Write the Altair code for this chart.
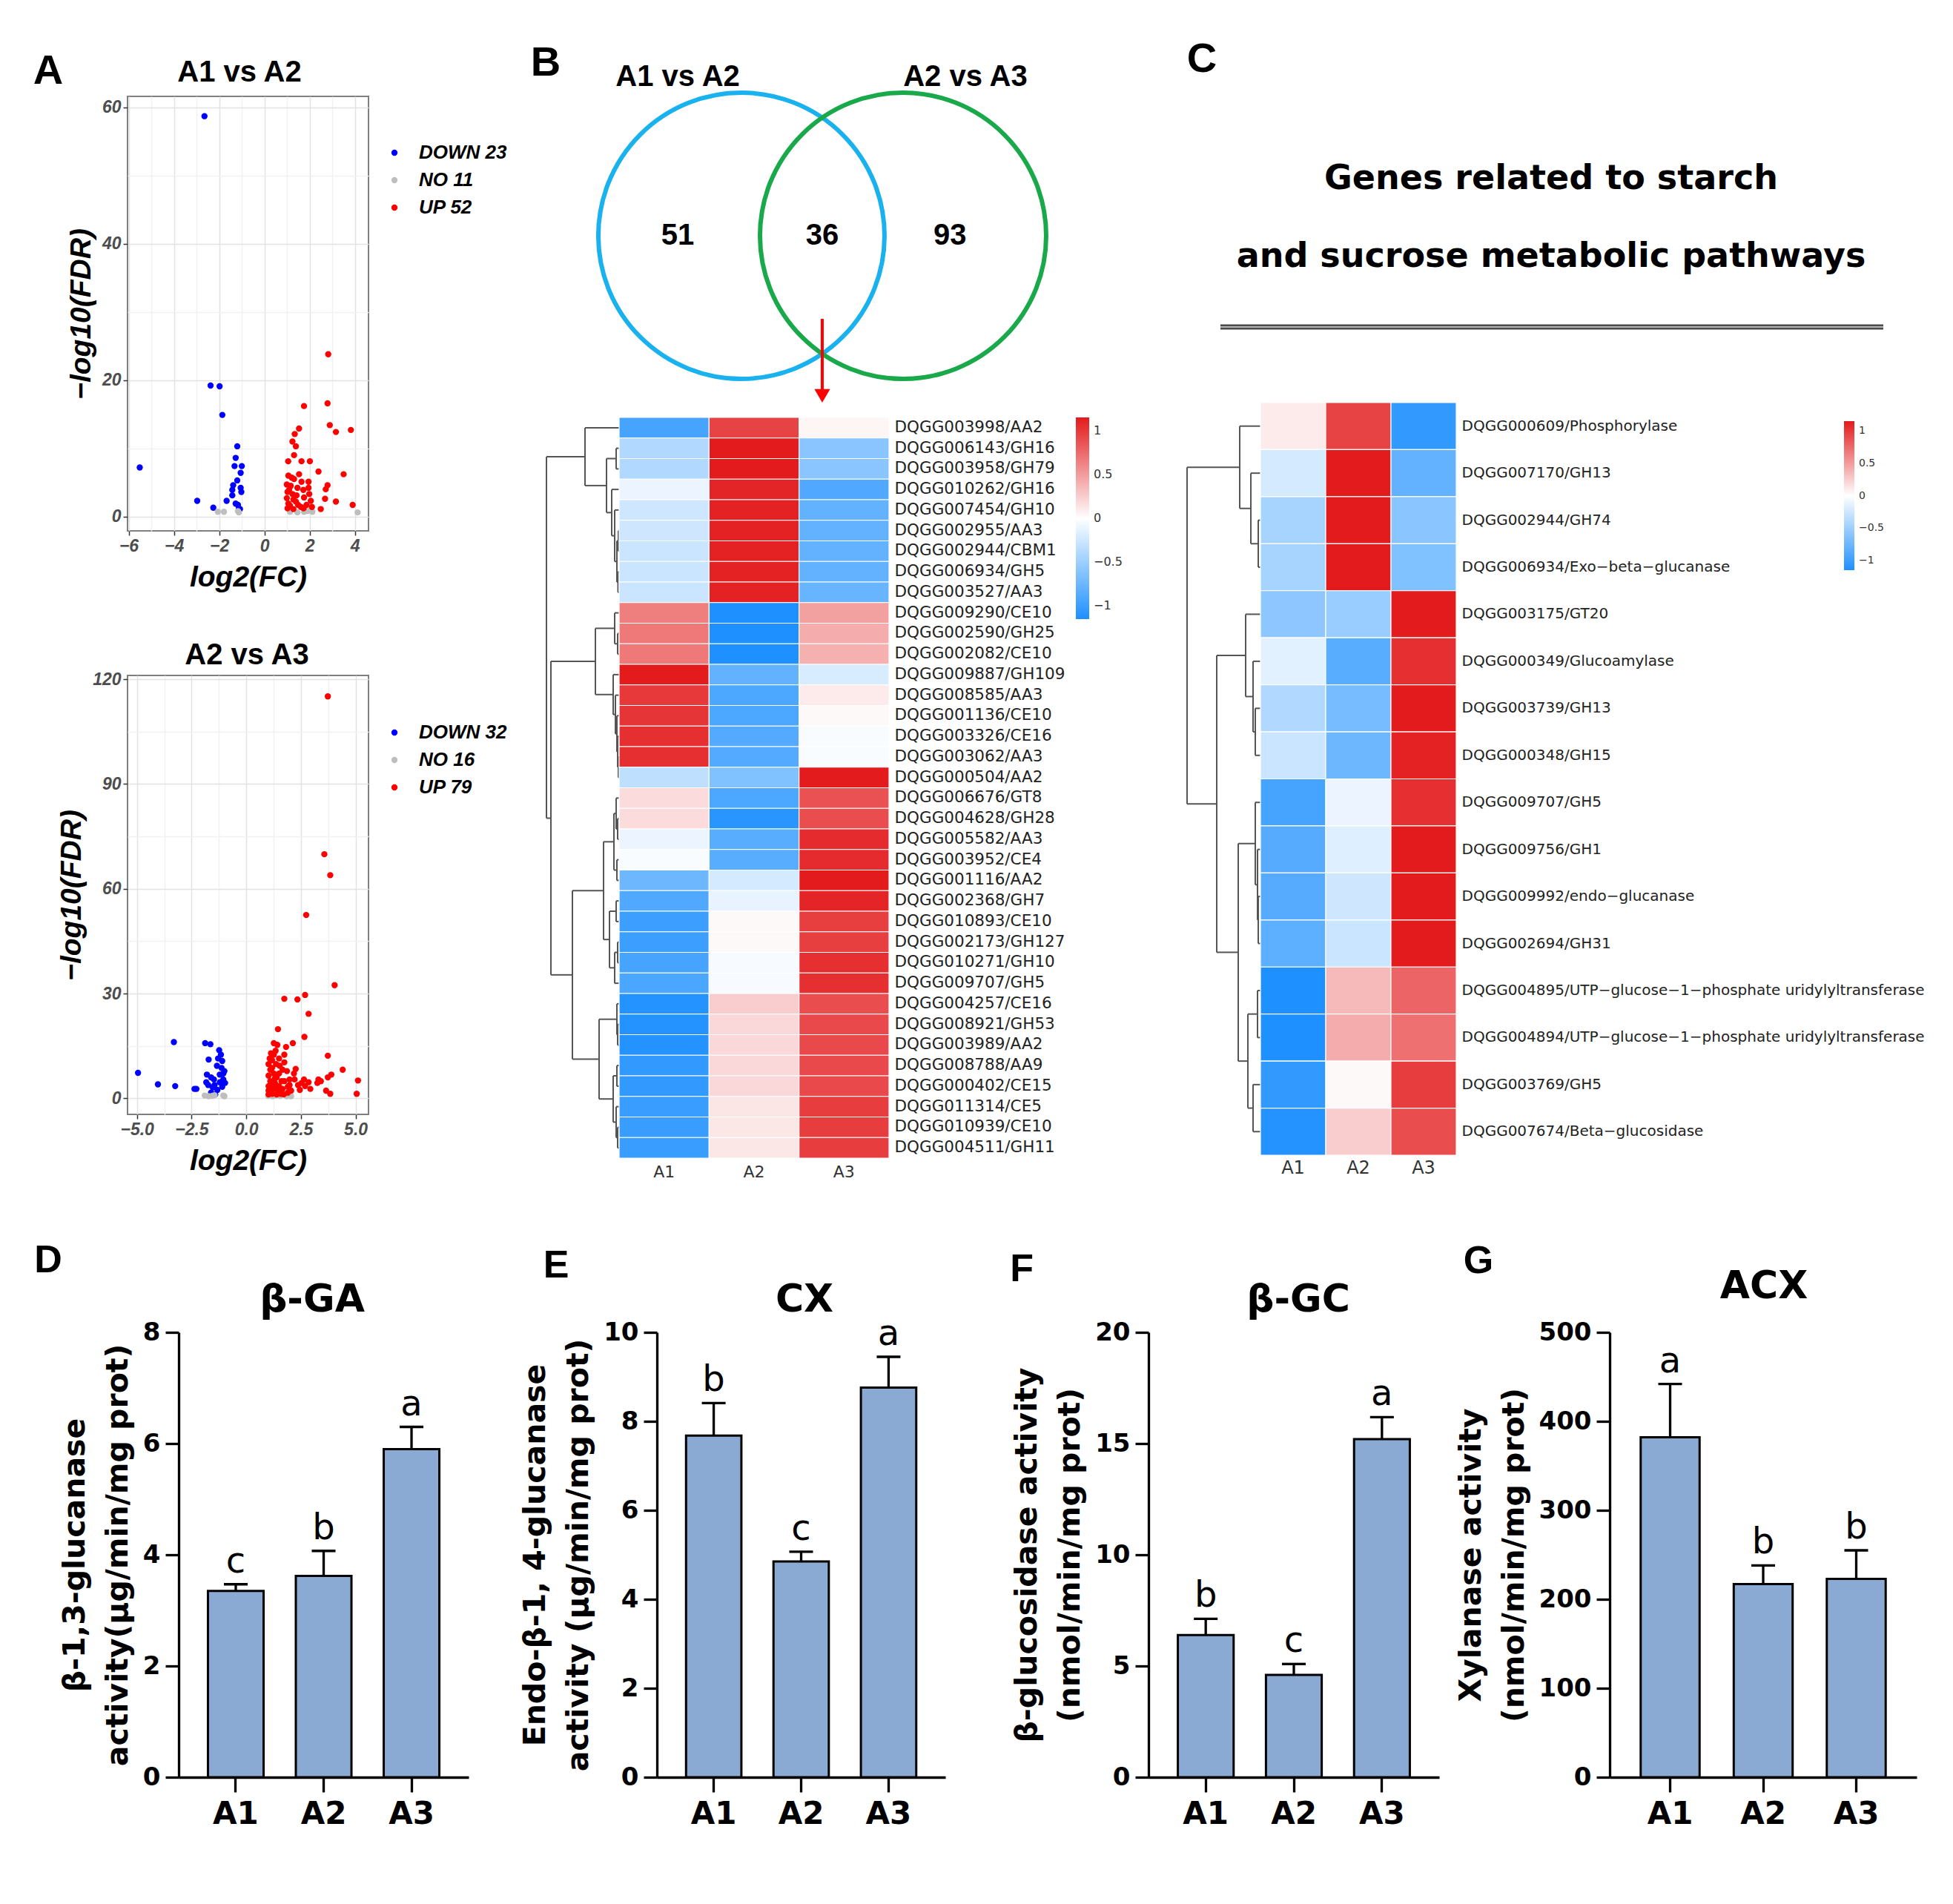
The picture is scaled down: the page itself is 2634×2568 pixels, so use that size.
import altair as alt
import pandas as pd

DJ = "DejaVu Sans"
LIB = "Liberation Sans"

# ---------------- Panel A : volcano plots ----------------
A12_DOWN_FC = [-2.65, -5.51, -2.38, -1.98, -1.86, -2.97, -2.26, -1.20, -1.27, -1.32, -1.00, -1.05,
               -1.20, -1.38, -1.05, -1.42, -1.02, -1.67, -1.42, -1.27, -1.17, -1.08, -1.13]
A12_DOWN_FDR = [58.7, 7.2, 19.2, 19.1, 14.9, 2.3, 1.3, 10.3, 8.6, 7.4, 7.4, 6.4,
                5.3, 4.6, 4.2, 3.9, 3.6, 2.3, 3.1, 1.9, 1.7, 1.1, 1.2]
A12_NO_FC = [-2.06, -1.79, -1.17, -1.13, 1.13, 1.46, 1.75, 1.90, 2.05, 2.12, 4.12]
A12_NO_FDR = [0.7, 0.7, 0.8, 0.6, 0.7, 0.6, 0.7, 0.8, 0.9, 0.7, 0.6]
A12_UP_FC = [2.82, 1.75, 2.79, 2.89, 3.16, 3.82, 1.53, 1.34, 1.24, 1.39, 1.31, 1.05, 1.64, 2.01, 2.39,
             3.50, 1.06, 1.21, 1.31, 1.64, 1.95, 0.99, 1.16, 1.46, 1.72, 1.95, 2.79, 2.71, 1.02, 1.24,
             1.42, 1.75, 0.99, 1.28, 2.68, 3.16, 2.05, 1.06, 1.49, 1.86, 1.02, 1.28, 1.61, 2.49, 3.90,
             2.10, 1.13, 1.39, 1.98, 1.09, 1.53, 1.73]
A12_UP_FDR = [23.8, 16.2, 16.6, 13.4, 12.4, 12.7, 12.9, 12.1, 11.0, 10.3, 9.0, 8.1, 8.1, 8.1, 6.6,
              6.2, 6.0, 5.7, 5.5, 5.1, 5.1, 4.7, 4.5, 4.2, 3.9, 4.2, 4.6, 4.0, 3.6, 3.3,
              3.1, 2.8, 2.7, 2.5, 2.6, 2.2, 2.3, 1.9, 1.7, 1.7, 1.2, 1.1, 1.4, 1.1, 1.7,
              1.4, 1.6, 2.2, 3.3, 3.9, 6.2, 1.2]

A23_DOWN_FC = [-4.95, -4.04, -3.31, -3.25, -2.37, -2.28, -1.88, -1.64, -1.72, -1.24, -1.16, -1.10,
               -1.34, -1.00, -1.21, -1.05, -1.48, -1.83, -1.74, -1.53, -1.32, -1.10, -1.61, -1.42,
               -1.80, -1.13, -1.29, -1.05, -1.45, -1.21, -1.61, -0.97]
A23_DOWN_FDR = [7.3, 4.0, 16.1, 3.5, 2.7, 2.7, 15.8, 15.5, 11.1, 13.8, 12.5, 10.7,
                9.3, 7.8, 6.8, 5.4, 5.4, 4.6, 3.8, 3.1, 2.4, 3.3, 1.6, 1.1,
                6.8, 8.7, 11.4, 7.1, 3.8, 4.6, 6.0, 4.4]
A23_NO_FC = [-1.90, -1.72, -1.55, -1.45, -1.05, -1.00, 1.00, 1.10, 1.20, 1.35, 1.55, 1.80, 1.85, 1.95, 2.00, 2.05]
A23_NO_FDR = [0.8, 0.6, 0.7, 0.9, 0.8, 0.6, 0.7, 0.9, 0.6, 0.8, 0.7, 0.9, 0.6, 0.8, 0.7, 0.6]
A23_UP_FC = [3.73, 3.57, 3.84, 2.74, 4.04, 2.69, 1.74, 2.34, 2.85, 1.45, 2.66, 2.13, 1.82, 1.26, 3.73,
             4.41, 5.11, 5.05, 3.84, 3.89, 3.73, 3.30, 3.25, 2.85, 2.64, 2.69, 2.45, 2.26, 2.21, 1.98,
             1.86, 1.66, 1.74, 1.74, 1.50, 1.34, 1.26, 1.18, 1.02, 1.10, 1.26, 1.02, 1.39, 1.10, 1.31,
             1.02, 1.50, 1.21, 1.02, 1.42, 1.66, 1.18, 1.39, 1.58, 1.90, 2.05, 1.50, 1.61, 1.18, 1.36,
             1.07, 1.42, 1.74, 1.90, 2.37, 2.53, 2.93, 3.41, 3.65, 1.10, 1.26, 1.45, 1.02, 1.71, 1.98,
             1.53, 2.18, 1.31, 1.13]
A23_UP_FDR = [115.1, 69.9, 63.9, 52.5, 32.4, 29.6, 28.5, 28.3, 24.2, 19.8, 17.6, 15.8, 14.7, 15.8, 12.2,
              8.2, 5.1, 1.3, 1.3, 6.8, 6.0, 5.4, 4.4, 4.6, 5.4, 3.5, 2.4, 8.4, 5.4, 3.8,
              7.8, 8.2, 10.3, 12.5, 11.4, 13.6, 12.5, 10.9, 9.8, 8.2, 7.1, 6.5, 6.0, 4.9, 4.4,
              3.5, 3.5, 2.7, 2.2, 2.2, 2.7, 1.3, 1.1, 1.3, 1.6, 2.2, 7.1, 4.9, 8.7, 9.8,
              11.4, 15.3, 4.9, 3.3, 3.8, 4.4, 2.7, 4.9, 2.2, 3.8, 3.3, 3.1, 1.1, 1.1, 5.4,
              9.3, 7.1, 5.7, 12.9]

# ---------------- Panel B : Venn + heatmap ----------------
VENN_SETS = ["A1 vs A2", "A2 vs A3"]
VENN_COUNTS = [51, 36, 93]  # only A1vsA2, shared, only A2vsA3

SAMPLES = ["A1", "A2", "A3"]
B_GENES = ["DQGG003998/AA2", "DQGG006143/GH16", "DQGG003958/GH79", "DQGG010262/GH16", "DQGG007454/GH10",
           "DQGG002955/AA3", "DQGG002944/CBM1", "DQGG006934/GH5", "DQGG003527/AA3", "DQGG009290/CE10",
           "DQGG002590/GH25", "DQGG002082/CE10", "DQGG009887/GH109", "DQGG008585/AA3", "DQGG001136/CE10",
           "DQGG003326/CE16", "DQGG003062/AA3", "DQGG000504/AA2", "DQGG006676/GT8", "DQGG004628/GH28",
           "DQGG005582/AA3", "DQGG003952/CE4", "DQGG001116/AA2", "DQGG002368/GH7", "DQGG010893/CE10",
           "DQGG002173/GH127", "DQGG010271/GH10", "DQGG009707/GH5", "DQGG004257/CE16", "DQGG008921/GH53",
           "DQGG003989/AA2", "DQGG008788/AA9", "DQGG000402/CE15", "DQGG011314/CE5", "DQGG010939/CE10",
           "DQGG004511/GH11"]
B_A1 = [-0.95, -0.40, -0.40, -0.10, -0.25, -0.25, -0.27, -0.27, -0.27, 0.65, 0.68, 0.68, 1.15, 1.00, 1.02,
        1.05, 1.05, -0.33, 0.18, 0.18, -0.10, -0.03, -0.75, -0.90, -1.00, -1.00, -0.95, -0.93, -1.12, -1.12,
        -1.12, -1.05, -1.05, -1.02, -1.02, -1.02]
B_A2 = [0.95, 1.15, 1.15, 1.10, 1.12, 1.12, 1.12, 1.12, 1.12, -1.15, -1.15, -1.15, -0.80, -0.92, -0.92,
        -0.88, -0.88, -0.65, -0.92, -1.10, -0.85, -0.85, -0.22, -0.12, 0.03, 0.03, -0.04, -0.04, 0.25, 0.20,
        0.20, 0.20, 0.20, 0.13, 0.12, 0.12]
B_A3 = [0.05, -0.60, -0.60, -0.90, -0.80, -0.80, -0.80, -0.80, -0.78, 0.48, 0.42, 0.40, -0.20, 0.10, 0.03,
        -0.03, -0.03, 1.15, 0.88, 0.90, 1.07, 1.07, 1.15, 1.10, 0.97, 0.97, 1.05, 1.05, 0.90, 0.92,
        0.92, 0.92, 0.92, 0.98, 0.98, 0.98]
# dendrogram: (height, left, right); leaves are row indices
B_TREE = (98,
          (46, 0, (17, (4, 1, 2), (10, 3, (6, 4, (3, (1, 5, 6), (1.5, 7, 8)))))),
          (92,
           (32, (6, 9, (2, 10, 11)), (8, 12, (5, 13, (3, 14, (2, 15, (1, 16, 17)))))),
           (63,
            (21, (7, (4, 18, (2, 19, 20)), (3, 21, 22)), (13, (4, 23, 24), (6, (2, 25, 26), 27))),
            (27, (3, 28, (2, 29, 30)), (8, (3, 31, 32), (4, 33, (2, 34, 35)))))))

# ---------------- Panel C : heatmap ----------------
C_TITLE = ["Genes related to starch", "and sucrose metabolic pathways"]
C_GENES = ["DQGG000609/Phosphorylase", "DQGG007170/GH13", "DQGG002944/GH74", "DQGG006934/Exo\u2212beta\u2212glucanase",
           "DQGG003175/GT20", "DQGG000349/Glucoamylase", "DQGG003739/GH13", "DQGG000348/GH15",
           "DQGG009707/GH5", "DQGG009756/GH1", "DQGG009992/endo\u2212glucanase", "DQGG002694/GH31",
           "DQGG004895/UTP\u2212glucose\u22121\u2212phosphate uridylyltransferase",
           "DQGG004894/UTP\u2212glucose\u22121\u2212phosphate uridylyltransferase",
           "DQGG003769/GH5", "DQGG007674/Beta\u2212glucosidase"]
C_A1 = [0.10, -0.22, -0.45, -0.45, -0.58, -0.15, -0.40, -0.27, -0.95, -0.87, -0.87, -0.83, -1.15, -1.15, -1.05, -1.12]
C_A2 = [0.95, 1.15, 1.15, 1.15, -0.52, -0.85, -0.70, -0.75, -0.10, -0.17, -0.25, -0.27, 0.35, 0.42, 0.03, 0.25]
C_A3 = [-1.05, -0.80, -0.60, -0.65, 1.15, 1.05, 1.15, 1.12, 1.05, 1.15, 1.15, 1.15, 0.78, 0.72, 0.98, 0.90]
C_TREE = (99,
          (28, 0, (13, 1, (3, 2, 3))),
          (59,
           (20, 4, (10, 5, (7, 6, 7))),
           (30, (7, 8, (4, 9, (3, 10, 11))), (17, (4, 12, 13), (10, 14, 15)))))

# ---------------- Panels D-G : enzyme activities ----------------
GROUPS = ["A1", "A2", "A3"]
GA_MEAN, GA_SD, GA_LET = [3.35, 3.62, 5.90], [0.12, 0.45, 0.40], ["c", "b", "a"]
CX_MEAN, CX_SD, CX_LET = [7.68, 4.85, 8.76], [0.73, 0.22, 0.69], ["b", "c", "a"]
GC_MEAN, GC_SD, GC_LET = [6.39, 4.60, 15.20], [0.73, 0.49, 0.99], ["b", "c", "a"]
ACX_MEAN, ACX_SD, ACX_LET = [382, 217, 223], [60, 21, 32], ["a", "b", "b"]

BAR_FILL = "#8BAAD3"
HEAT_RANGE = ["#1E90FF", "#FFFFFF", "#E31A1C"]
ZMAX = 1.155
ONE = pd.DataFrame({"a": [0]})


def cond(test, a, b):
    return {"condition": {"test": test, "value": a}, "value": b}


def label_layer(text, xy, size, font=LIB, weight="bold", style="normal"):
    return alt.Chart(pd.DataFrame({"t": [text]})).mark_text(
        font=font, fontSize=size, fontWeight=weight, fontStyle=style, align="center",
        baseline="middle", color="black"
    ).encode(x=alt.value(xy[0]), y=alt.value(xy[1]), text="t:N")


def volcano(groups, title, title_xy, xdom, xvals, xtest, xfmt, ydom, yvals, ytest, w, h, legend_y,
            letter=None):
    rows = []
    names = []
    for name, xs, ys in groups:
        lab = f"{name} {len(xs)}"
        names.append(lab)
        for a, b in zip(xs, ys):
            rows.append({"fc": a, "fdr": b, "grp": lab})
    df = pd.DataFrame(rows)
    common = dict(grid=True, domain=False, tickColor="#333333", tickSize=6, tickWidth=1.5, gridWidth=1.5,
                  labelFont=LIB, labelFontSize=23, labelFontWeight="bold", labelFontStyle="italic",
                  labelColor="#4D4D4D", titleFont=LIB, titleFontSize=39, titleFontWeight="bold",
                  titleFontStyle="italic", titleColor="black")
    xkw = dict(values=xvals, labelExpr=f"{xtest} ? datum.label : ''",
               gridColor=cond(xtest, "#E2E2E2", "#F1F1F1"), tickOpacity=cond(xtest, 1, 0),
               title="log2(FC)", labelPadding=3, titlePadding=11, **common)
    if xfmt:
        xkw["format"] = xfmt
    yaxis = alt.Axis(values=yvals, labelExpr=f"{ytest} ? datum.label : ''",
                     gridColor=cond(ytest, "#E2E2E2", "#F1F1F1"), tickOpacity=cond(ytest, 1, 0),
                     title="\u2212log10(FDR)", labelPadding=3, titlePadding=8, **common)
    pts = alt.Chart(df).mark_circle(size=70, opacity=1).encode(
        x=alt.X("fc:Q", scale=alt.Scale(domain=xdom, nice=False, zero=False), axis=alt.Axis(**xkw)),
        y=alt.Y("fdr:Q", scale=alt.Scale(domain=ydom, nice=False, zero=False), axis=yaxis),
        color=alt.Color("grp:N", scale=alt.Scale(domain=names, range=["#0000FF", "#BEBEBE", "#FF0000"]),
                        legend=alt.Legend(title=None, orient="none", legendX=347, legendY=legend_y,
                                          labelFont=LIB, labelFontSize=26, labelFontWeight="bold",
                                          labelFontStyle="italic", labelColor="black", symbolType="circle",
                                          symbolSize=70, symbolStrokeWidth=0, rowPadding=11, labelOffset=20)),
    )
    layers = [pts, label_layer(title, title_xy, 40)]
    if letter:
        layers.append(label_layer(letter, (-107, -34), 56))
    return alt.layer(*layers).properties(
        width=w, height=h, view=alt.ViewBackground(stroke="#7F7F7F", strokeWidth=2))


def dendro_segments(tree):
    segs = []

    def walk(node):
        if isinstance(node, int):
            return 0.0, float(node)
        hgt, left, right = node
        hl, yl = walk(left)
        hr, yr = walk(right)
        segs.append((hl, hgt, yl, yl))
        segs.append((hr, hgt, yr, yr))
        segs.append((hgt, hgt, yl, yr))
        return hgt, (yl + yr) / 2

    walk(tree)
    return pd.DataFrame(segs, columns=["x1", "x2", "y1", "y2"])


def dendro(tree, n, w, h):
    segs = dendro_segments(tree)
    return alt.Chart(segs).mark_rule(color="#555555", strokeWidth=2).encode(
        x=alt.X("x1:Q", scale=alt.Scale(domain=[0, tree[0]], reverse=True, nice=False, zero=False), axis=None),
        x2="x2:Q",
        y=alt.Y("y1:Q", scale=alt.Scale(domain=[-0.5, n - 0.5], reverse=True, nice=False, zero=False), axis=None),
        y2="y2:Q",
    ).properties(width=w, height=h)


def heatmap(genes, a1, a2, a3, w, h, lab_size, col_size, col_pad, lx, ly, llen, lthick, lsize):
    rows = []
    for g, v1, v2, v3 in zip(genes, a1, a2, a3):
        for s, v in zip(SAMPLES, (v1, v2, v3)):
            rows.append({"gene": g, "sample": s, "z": v})
    df = pd.DataFrame(rows)
    return alt.Chart(df).mark_rect(stroke="white", strokeWidth=1.2).encode(
        x=alt.X("sample:N", sort=SAMPLES, scale=alt.Scale(paddingInner=0, paddingOuter=0),
                axis=alt.Axis(title=None, orient="bottom", labelAngle=0, ticks=False, domain=False,
                              labelFont=DJ, labelFontSize=col_size, labelColor="#333333", labelPadding=col_pad)),
        y=alt.Y("gene:N", sort=genes, scale=alt.Scale(paddingInner=0, paddingOuter=0),
                axis=alt.Axis(title=None, orient="right", ticks=False, domain=False, labelFont=DJ,
                              labelFontSize=lab_size, labelColor="#222222", labelPadding=7, labelLimit=0)),
        color=alt.Color("z:Q", scale=alt.Scale(domain=[-ZMAX, 0, ZMAX], range=HEAT_RANGE, interpolate="rgb"),
                        legend=alt.Legend(title=None, orient="none", legendX=lx, legendY=ly, direction="vertical",
                                          gradientLength=llen, gradientThickness=lthick, format="~g",
                                          values=[-1, -0.5, 0, 0.5, 1], labelFont=DJ, labelFontSize=lsize,
                                          labelColor="#333333", labelOffset=6, gradientStrokeWidth=0)),
    ).properties(width=w, height=h)


def bar_panel(title, letter, means, sds, labs, ymax, ticks, ytitle, w, letter_xy, title_xy):
    df = pd.DataFrame({"g": GROUPS, "m": means, "s": sds, "lab": labs})
    base = alt.Chart(df).transform_calculate(top="datum.m + datum.s")
    xscale = alt.Scale(paddingInner=0.367, paddingOuter=0.333)
    yscale = alt.Scale(domain=[0, ymax], nice=False, zero=True)
    xaxis = alt.Axis(title=None, labelAngle=0, domainColor="black", domainWidth=3.3, tickColor="black",
                     tickWidth=3.3, tickSize=20, labelFont=DJ, labelFontSize=42, labelFontWeight="bold",
                     labelColor="black", labelPadding=9)
    yaxis = alt.Axis(values=ticks, title=ytitle, grid=False, domainColor="black", domainWidth=3.3,
                     tickColor="black", tickWidth=3.3, tickSize=18, labelFont=DJ, labelFontSize=34,
                     labelFontWeight="bold", labelColor="black", labelPadding=7, titleFont=DJ,
                     titleFontSize=41, titleFontWeight="bold", titleColor="black", titleLineHeight=58,
                     titlePadding=12)
    X = alt.X("g:N", sort=GROUPS, scale=xscale, axis=xaxis)
    bars = base.mark_bar(fill=BAR_FILL, stroke="black", strokeWidth=3, opacity=1).encode(
        x=X, y=alt.Y("m:Q", scale=yscale, axis=yaxis))
    err = base.mark_rule(color="black", strokeWidth=3.3).encode(
        x=X, y=alt.Y("m:Q", scale=yscale, axis=yaxis), y2="top:Q")
    cap = base.mark_tick(color="black", thickness=3.3, size=32, orient="horizontal", opacity=1).encode(
        x=X, y=alt.Y("top:Q", scale=yscale, axis=yaxis))
    txt = base.mark_text(font=DJ, fontSize=48, baseline="alphabetic", dy=-16, color="black").encode(
        x=X, y=alt.Y("top:Q", scale=yscale, axis=yaxis), text="lab:N")
    return alt.layer(bars, err, cap, txt, label_layer(letter, letter_xy, 52),
                     label_layer(title, title_xy, 52, font=DJ)).properties(width=w, height=600)


def spacer(w):
    return alt.Chart(ONE).mark_point(opacity=0).encode(
        x=alt.value(0), y=alt.value(0)).properties(width=w, height=1)


def indep(c):
    return c.resolve_scale(color="independent").resolve_legend(color="independent")


# ---------- Column A ----------
vol1 = volcano([("DOWN", A12_DOWN_FC, A12_DOWN_FDR), ("NO", A12_NO_FC, A12_NO_FDR), ("UP", A12_UP_FC, A12_UP_FDR)],
               "A1 vs A2", (151, -32), [-6.05, 4.6], list(range(-6, 5)), "datum.value % 2 === 0", None,
               [-2.1, 61.6], list(range(0, 61, 10)), "datum.value % 20 === 0", 325, 586, 63, letter="A")
vol2 = volcano([("DOWN", A23_DOWN_FC, A23_DOWN_FDR), ("NO", A23_NO_FC, A23_NO_FDR), ("UP", A23_UP_FC, A23_UP_FDR)],
               "A2 vs A3", (161, -27), [-5.43, 5.59], [-5, -3.75, -2.5, -1.25, 0, 1.25, 2.5, 3.75, 5],
               "datum.value % 2.5 === 0", ".1f",
               [-4.6, 121.1], list(range(0, 121, 15)), "datum.value % 30 === 0", 325, 592, 64)
colA = indep(alt.vconcat(vol1, vol2, spacing=195, bounds="flush"))

# ---------- Column B ----------
vx = alt.Scale(domain=[-1.706, 1.711], nice=False, zero=False)
vy = alt.Scale(domain=[-1.055, 0.8624], nice=False, zero=False)
circ_df = pd.DataFrame({"set": VENN_SETS, "cx": [-0.5, 0.5], "cy": [0.0, 0.0]})
circles = alt.Chart(circ_df).mark_point(shape="circle", filled=False, size=148996, strokeWidth=6, opacity=1).encode(
    x=alt.X("cx:Q", scale=vx, axis=None), y=alt.Y("cy:Q", scale=vy, axis=None),
    color=alt.Color("set:N", scale=alt.Scale(domain=VENN_SETS, range=["#1AB2EE", "#19A84A"]), legend=None))
set_titles = alt.Chart(circ_df).transform_calculate(
    tx="datum.cx < 0 ? datum.cx - 0.394 : datum.cx + 0.385", ty="0.982").mark_text(
    font=LIB, fontSize=40, fontWeight="bold", color="black", baseline="middle").encode(
    x=alt.X("tx:Q", scale=vx, axis=None), y=alt.Y("ty:Q", scale=vy, axis=None), text="set:N")
cnt_df = pd.DataFrame({"n": VENN_COUNTS, "px": [-0.894, 0.0, 0.79], "py": [0.0, 0.0, 0.0]})
counts = alt.Chart(cnt_df).mark_text(font=LIB, fontSize=40, fontWeight="bold", color="black",
                                     baseline="middle").encode(
    x=alt.X("px:Q", scale=vx, axis=None), y=alt.Y("py:Q", scale=vy, axis=None), text="n:Q")
arrow = alt.Chart(ONE).mark_rule(color="#FF0000", strokeWidth=4).encode(
    x=alt.datum(0, scale=vx), y=alt.datum(-0.514, scale=vy), y2=alt.datum(-0.95))
arrow_head = alt.Chart(ONE).mark_point(shape="triangle-down", filled=True, size=450, color="#FF0000",
                                       opacity=1).encode(x=alt.datum(0, scale=vx), y=alt.datum(-0.99, scale=vy))
venn = alt.layer(circles, set_titles, counts, arrow, arrow_head, label_layer("B", (-1, -45), 56)).properties(
    width=745, height=418)

heatB = indep(alt.hconcat(dendro(B_TREE, len(B_GENES), 98, 999),
                          heatmap(B_GENES, B_A1, B_A2, B_A3, 364, 999, 21.5, 22, 8, 616, 0, 272, 18, 16),
                          spacing=0, bounds="flush"))
colB = indep(alt.vconcat(venn, heatB, spacing=15, bounds="flush"))

# ---------- Column C ----------
title_c = alt.layer(
    alt.Chart(ONE).mark_text(text=C_TITLE, font=DJ, fontSize=46, fontWeight="bold", lineHeight=105,
                             align="center", baseline="middle", color="black").encode(
        x=alt.value(491), y=alt.value(111)),
    alt.Chart(ONE).mark_rule(color="#4A4A4A", strokeWidth=7).encode(
        x=alt.value(45), x2=alt.value(939), y=alt.value(311)),
    alt.Chart(ONE).mark_rule(color="#B5B5B5", strokeWidth=2).encode(
        x=alt.value(45), x2=alt.value(939), y=alt.value(311)),
    label_layer("C", (20, -50), 56),
).properties(width=982, height=330)
heatC = indep(alt.hconcat(dendro(C_TREE, len(C_GENES), 99, 1015),
                          heatmap(C_GENES, C_A1, C_A2, C_A3, 264, 1015, 20, 24, 5, 787, 25, 201, 14, 14),
                          spacing=0, bounds="flush"))
colC = indep(alt.vconcat(title_c, heatC, spacing=83, bounds="flush"))

top_row = indep(alt.hconcat(colA, spacer(565), colB, spacer(864), colC, spacing=0, bounds="flush"))

# ---------- Bottom row ----------
pD = bar_panel("\u03b2-GA", "D", GA_MEAN, GA_SD, GA_LET, 8, [0, 2, 4, 6, 8],
               ["\u03b2-1,3-glucanase", "activity(\u03bcg/min/mg prot)"], 391, (-176, -97), (180, -44))
pE = bar_panel("CX", "E", CX_MEAN, CX_SD, CX_LET, 10, [0, 2, 4, 6, 8, 10],
               ["Endo-\u03b2-1, 4-glucanase", "activity (\u03bcg/min/mg prot)"], 389, (-136, -90), (199, -44))
pF = bar_panel("\u03b2-GC", "F", GC_MEAN, GC_SD, GC_LET, 20, [0, 5, 10, 15, 20],
               ["\u03b2-glucosidase activity", "(nmol/min/mg prot)"], 392, (-171, -85), (202, -44))
pG = bar_panel("ACX", "G", ACX_MEAN, ACX_SD, ACX_LET, 500, [0, 100, 200, 300, 400, 500],
               ["Xylanase activity", "(nmol/min/mg prot)"], 414, (-177, -96), (208, -62))
bottom_row = alt.hconcat(spacer(69), pD, spacer(254), pE, spacer(274), pF, spacer(230), pG,
                         spacing=0, bounds="flush")

chart = indep(alt.vconcat(top_row, bottom_row, spacing=1667, bounds="flush")).properties(
    padding={"left": 35, "top": 44, "right": 12, "bottom": 30}, background="white"
).configure_view(stroke=None)

chart.save("out.html", embed_options={"renderer": "svg", "actions": False})
